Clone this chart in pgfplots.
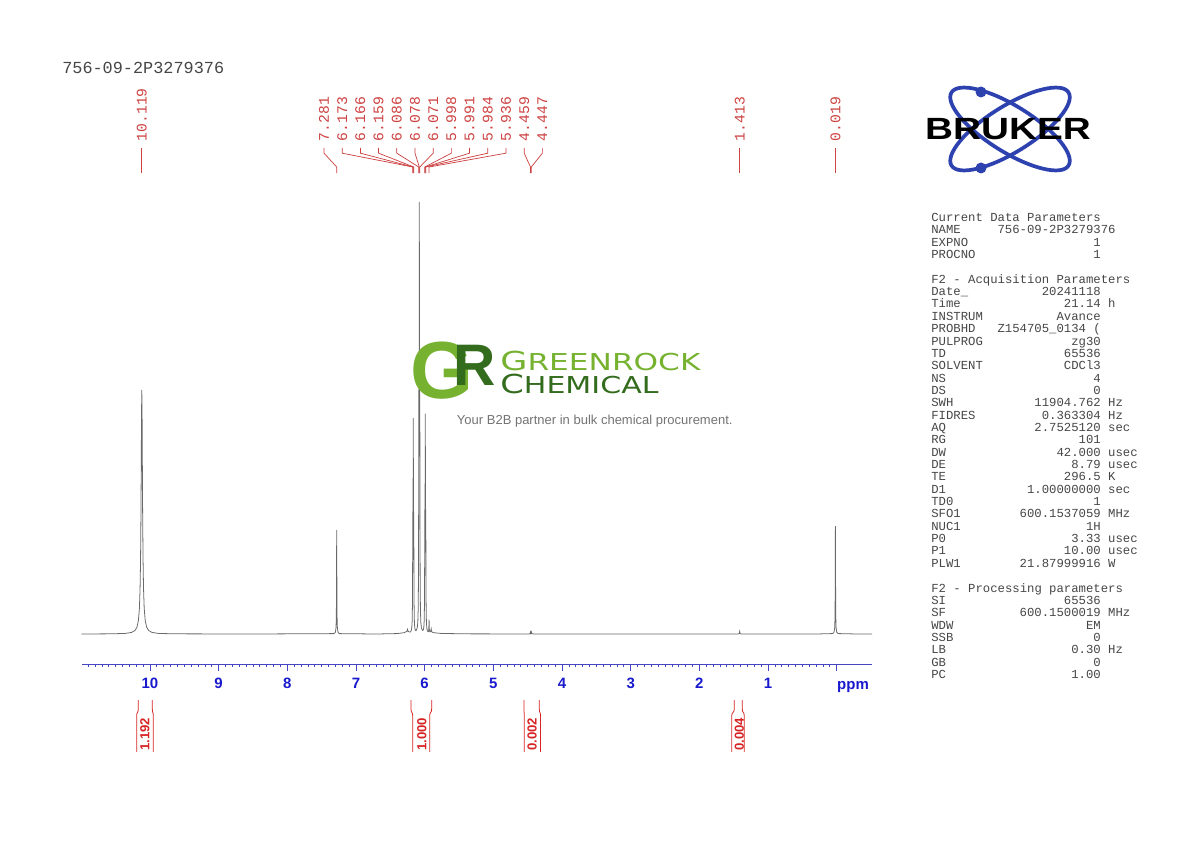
\documentclass[border=0pt]{standalone}
\usepackage{pgfplots}
\pgfplotsset{compat=1.18}
\usepackage{pgfplotstable}
\usepackage{fontspec}
\setmainfont{Liberation Sans}
\newfontfamily\mono{Liberation Mono}
\newfontfamily\dejavu{DejaVu Sans}
\definecolor{spec}{RGB}{105,105,105}
\definecolor{lblred}{RGB}{205,65,65}
\definecolor{intred}{RGB}{215,35,35}
\definecolor{axblue}{RGB}{70,70,195}
\definecolor{tickblue}{RGB}{25,25,205}
\definecolor{grlight}{RGB}{118,178,48}
\definecolor{grdark}{RGB}{52,108,30}
\definecolor{brblue}{RGB}{45,65,175}
\definecolor{partext}{RGB}{70,70,70}
\definecolor{taggray}{RGB}{115,115,115}

\newlength\cw
\setlength\cw{5.16pt}
\newcommand\pl[3]{\makebox[0pt][l]{#1}\makebox[23\cw][r]{#2}\hspace{\cw}#3}

\pgfplotstableread{
ppm I
11.0 0
10.6 0.04
10.369 0.12
10.269 0.36
10.219 0.8
10.189 1.6
10.169 3.1
10.154 5.9
10.144 10.6
10.137 17.4
10.131 28.3
10.127 39.1
10.123 50.9
10.119 56.5
10.115 50.9
10.111 39.1
10.107 28.3
10.101 17.4
10.094 10.6
10.084 5.9
10.069 3.1
10.049 1.6
10.019 0.8
9.969 0.36
9.869 0.12
9.6 0.04
8.5 0
7.321 0.09
7.301 0.37
7.291 1.41
7.287 3.55
7.285 6.7
7.2835 12.0
7.2825 17.6
7.281 24.1
7.2795 17.6
7.2785 12.0
7.277 6.7
7.275 3.55
7.271 1.41
7.261 0.37
7.241 0.09
6.7 0
6.40 0.1
6.30 0.3
6.26 0.6
6.25 1.1
6.24 0.6
6.216 0.45
6.206 0.5
6.196 0.78
6.188 1.4
6.182 2.95
6.178 6.8
6.1755 14.7
6.173 28.3
6.1695 24.0
6.166 50.0
6.1625 24.0
6.159 28.3
6.1565 14.7
6.154 6.8
6.150 2.95
6.144 1.45
6.136 0.85
6.126 0.8
6.118 1.0
6.108 1.5
6.100 2.7
6.094 5.8
6.090 13.5
6.0875 29.3
6.085 56.5
6.0815 47.9
6.078 100.0
6.0745 47.9
6.071 56.5
6.0685 29.3
6.066 13.5
6.062 5.8
6.056 2.7
6.048 1.5
6.038 1.0
6.031 0.85
6.021 0.9
6.013 1.4
6.007 3.0
6.003 6.9
6.0005 14.9
5.998 28.8
5.9945 24.4
5.991 51.0
5.9875 24.4
5.984 28.8
5.9815 14.9
5.979 6.9
5.975 3.0
5.969 1.4
5.961 0.75
5.952 0.55
5.946 0.55
5.942 0.75
5.940 1.1
5.9385 1.8
5.9375 2.5
5.936 3.3
5.9345 2.5
5.9335 1.8
5.932 1.1
5.929 0.7
5.922 0.5
5.912 0.6
5.905 1.2
5.898 0.5
5.87 0.3
5.75 0.12
5.3 0.03
4.48 0.02
4.465 0.1
4.459 0.5
4.453 0.15
4.447 0.5
4.441 0.1
4.42 0.02
1.44 0
1.419 0.1
1.413 0.6
1.407 0.1
1.39 0
0.3 0
0.059 0.1
0.039 0.39
0.029 1.47
0.025 3.7
0.023 7.0
0.0215 12.5
0.0205 18.4
0.019 25.0
0.0175 18.4
0.0165 12.5
0.015 7.0
0.013 3.7
0.009 1.47
-0.001 0.39
-0.021 0.1
-0.3 0
-0.514 0
}\spectab

\begin{document}
\begin{tikzpicture}[x=0.7pt,y=0.7pt]
\begin{axis}[
  at={(57.4pt,124.6pt)}, anchor=south west,
  scale only axis, width=553pt, height=338.52pt,
  xmin=-0.514, xmax=10.99, ymin=-6.944, ymax=105,
  x dir=reverse, clip=false,
  axis x line*=bottom, hide y axis,
  axis line style={axblue, line width=0.6pt, -},
  xtick={0,1,2,3,4,5,6,7,8,9,10,11},
  xticklabels={,1,2,3,4,5,6,7,8,9,10,},
  minor x tick num=9,
  tick align=outside,
  major tick length=4.9pt, minor tick length=2.1pt,
  every tick/.append style={axblue, line width=0.5pt},
  xticklabel style={font=\fontsize{10.5}{12}\selectfont\bfseries, text=tickblue, inner sep=0pt, yshift=-4.9pt},
]
\addplot[spec, line width=0.55pt, no markers] table[x=ppm,y=I]{\spectab};

% peak labels
\tikzset{plab/.style={lblred, rotate=90, anchor=west, inner sep=0pt, font=\mono\fontsize{10.3}{12}\selectfont}}
\tikzset{pline/.style={lblred, line width=0.5pt}}
\draw[pline] (axis cs:10.119,112.5) -- (axis cs:10.119,106.7);
\node[plab] at (axis cs:10.119,114.0) {10.119};
\draw[pline] (axis cs:1.413,112.5) -- (axis cs:1.413,106.7);
\node[plab] at (axis cs:1.413,114.0) {1.413};
\draw[pline] (axis cs:0.019,112.5) -- (axis cs:0.019,106.7);
\node[plab] at (axis cs:0.019,114.0) {0.019};

\draw[pline] (axis cs:7.466,112.5) -- (axis cs:7.466,111.3) -- (axis cs:7.281,108.1) -- (axis cs:7.281,106.7);
\node[plab] at (axis cs:7.466,114.0) {7.281};
\draw[pline] (axis cs:7.201,112.5) -- (axis cs:7.201,111.3) -- (axis cs:6.173,108.1) -- (axis cs:6.173,106.7);
\node[plab] at (axis cs:7.201,114.0) {6.173};
\draw[pline] (axis cs:6.936,112.5) -- (axis cs:6.936,111.3) -- (axis cs:6.166,108.1) -- (axis cs:6.166,106.7);
\node[plab] at (axis cs:6.936,114.0) {6.166};
\draw[pline] (axis cs:6.671,112.5) -- (axis cs:6.671,111.3) -- (axis cs:6.159,108.1) -- (axis cs:6.159,106.7);
\node[plab] at (axis cs:6.671,114.0) {6.159};
\draw[pline] (axis cs:6.406,112.5) -- (axis cs:6.406,111.3) -- (axis cs:6.086,108.1) -- (axis cs:6.086,106.7);
\node[plab] at (axis cs:6.406,114.0) {6.086};
\draw[pline] (axis cs:6.141,112.5) -- (axis cs:6.141,111.3) -- (axis cs:6.078,108.1) -- (axis cs:6.078,106.7);
\node[plab] at (axis cs:6.141,114.0) {6.078};
\draw[pline] (axis cs:5.876,112.5) -- (axis cs:5.876,111.3) -- (axis cs:6.071,108.1) -- (axis cs:6.071,106.7);
\node[plab] at (axis cs:5.876,114.0) {6.071};
\draw[pline] (axis cs:5.611,112.5) -- (axis cs:5.611,111.3) -- (axis cs:5.998,108.1) -- (axis cs:5.998,106.7);
\node[plab] at (axis cs:5.611,114.0) {5.998};
\draw[pline] (axis cs:5.346,112.5) -- (axis cs:5.346,111.3) -- (axis cs:5.991,108.1) -- (axis cs:5.991,106.7);
\node[plab] at (axis cs:5.346,114.0) {5.991};
\draw[pline] (axis cs:5.081,112.5) -- (axis cs:5.081,111.3) -- (axis cs:5.984,108.1) -- (axis cs:5.984,106.7);
\node[plab] at (axis cs:5.081,114.0) {5.984};
\draw[pline] (axis cs:4.816,112.5) -- (axis cs:4.816,111.3) -- (axis cs:5.936,108.1) -- (axis cs:5.936,106.7);
\node[plab] at (axis cs:4.816,114.0) {5.936};
\draw[pline] (axis cs:4.551,112.5) -- (axis cs:4.551,111.3) -- (axis cs:4.459,108.1) -- (axis cs:4.459,106.7);
\node[plab] at (axis cs:4.551,114.0) {4.459};
\draw[pline] (axis cs:4.286,112.5) -- (axis cs:4.286,111.3) -- (axis cs:4.447,108.1) -- (axis cs:4.447,106.7);
\node[plab] at (axis cs:4.286,114.0) {4.447};

% integrals
\tikzset{iline/.style={intred, line width=0.55pt}}
\tikzset{ilab/.style={intred, rotate=90, inner sep=0pt, font=\fontsize{9.2}{11}\selectfont\bfseries}}
\draw[iline] (axis cs:10.170,-15.28) -- (axis cs:10.170,-17.3) .. controls (axis cs:10.170,-18.4) and (axis cs:10.194,-17.9) .. (axis cs:10.194,-19.0) -- (axis cs:10.194,-27.31);
\draw[iline] (axis cs:9.966,-15.28) -- (axis cs:9.966,-17.3) .. controls (axis cs:9.966,-18.4) and (axis cs:9.952,-17.9) .. (axis cs:9.952,-19.0) -- (axis cs:9.952,-27.31);
\node[ilab] at (axis cs:10.073,-23.26) {1.192};
\draw[iline] (axis cs:6.199,-15.28) -- (axis cs:6.199,-17.3) .. controls (axis cs:6.199,-18.4) and (axis cs:6.174,-17.9) .. (axis cs:6.174,-19.0) -- (axis cs:6.174,-27.31);
\draw[iline] (axis cs:5.898,-15.28) -- (axis cs:5.898,-17.3) .. controls (axis cs:5.898,-18.4) and (axis cs:5.927,-17.9) .. (axis cs:5.927,-19.0) -- (axis cs:5.927,-27.31);
\node[ilab] at (axis cs:6.040,-23.26) {1.000};
\draw[iline] (axis cs:4.555,-15.28) -- (axis cs:4.555,-17.3) .. controls (axis cs:4.555,-18.4) and (axis cs:4.549,-17.9) .. (axis cs:4.549,-19.0) -- (axis cs:4.549,-27.31);
\draw[iline] (axis cs:4.331,-15.28) -- (axis cs:4.331,-17.3) .. controls (axis cs:4.331,-18.4) and (axis cs:4.313,-17.9) .. (axis cs:4.313,-19.0) -- (axis cs:4.313,-27.31);
\node[ilab] at (axis cs:4.437,-23.26) {0.002};
\draw[iline] (axis cs:1.491,-15.28) -- (axis cs:1.491,-17.3) .. controls (axis cs:1.491,-18.4) and (axis cs:1.529,-17.9) .. (axis cs:1.529,-19.0) -- (axis cs:1.529,-27.31);
\draw[iline] (axis cs:1.375,-15.28) -- (axis cs:1.375,-17.3) .. controls (axis cs:1.375,-18.4) and (axis cs:1.346,-17.9) .. (axis cs:1.346,-19.0) -- (axis cs:1.346,-27.31);
\node[ilab] at (axis cs:1.418,-23.26) {0.004};
\end{axis}

% ppm unit
\node[anchor=base, text=tickblue, font=\fontsize{10.5}{12}\selectfont\bfseries, inner sep=0pt] at (853,153) {ppm};

% header
\node[anchor=west, inner sep=0pt, text=partext, font=\mono\fontsize{11.8}{14}\selectfont] at (62,774) {756-09-2P3279376};

% parameters
\node[anchor=north west, inner sep=0pt, align=left, text=partext, font=\mono\fontsize{8.6}{8.645}\selectfont] at (931,629) {%
Current Data Parameters\\
\makebox[0pt][l]{NAME}\makebox[25\cw][r]{756-09-2P3279376}\\
\pl{EXPNO}{1}{}\\
\pl{PROCNO}{1}{}\\[8.645pt]
F2 - Acquisition Parameters\\
\pl{Date\_}{20241118}{}\\
\pl{Time}{21.14}{h}\\
\pl{INSTRUM}{Avance}{}\\
\pl{PROBHD}{Z154705\_0134 (}{}\\
\pl{PULPROG}{zg30}{}\\
\pl{TD}{65536}{}\\
\pl{SOLVENT}{CDCl3}{}\\
\pl{NS}{4}{}\\
\pl{DS}{0}{}\\
\pl{SWH}{11904.762}{Hz}\\
\pl{FIDRES}{0.363304}{Hz}\\
\pl{AQ}{2.7525120}{sec}\\
\pl{RG}{101}{}\\
\pl{DW}{42.000}{usec}\\
\pl{DE}{8.79}{usec}\\
\pl{TE}{296.5}{K}\\
\pl{D1}{1.00000000}{sec}\\
\pl{TD0}{1}{}\\
\pl{SFO1}{600.1537059}{MHz}\\
\pl{NUC1}{1H}{}\\
\pl{P0}{3.33}{usec}\\
\pl{P1}{10.00}{usec}\\
\pl{PLW1}{21.87999916}{W}\\[8.645pt]
F2 - Processing parameters\\
\pl{SI}{65536}{}\\
\pl{SF}{600.1500019}{MHz}\\
\pl{WDW}{EM}{}\\
\pl{SSB}{0}{}\\
\pl{LB}{0.30}{Hz}\\
\pl{GB}{0}{}\\
\pl{PC}{1.00}{}};

% Bruker logo
\begin{scope}[shift={(1010,713)}]
\draw[brblue, line width=2.6pt] (0,0) ellipse [x radius=69, y radius=23, rotate=32];
\draw[brblue, line width=2.6pt] (0,0) ellipse [x radius=69, y radius=23, rotate=-32];
\fill[brblue] (-29,37) circle (5.5);
\fill[brblue] (-29,-39) circle (5.5);
\node[inner sep=0pt, xscale=1.26, font=\fontsize{21.5}{24}\selectfont\bfseries] at (-2,0) {BRUKER};
\end{scope}

% GreenRock watermark
\node[anchor=base west, inner sep=0pt, text=grlight, font=\fontsize{56.7}{60}\selectfont\bfseries] at (410,444) {G};
\node[anchor=base west, inner sep=0pt, text=grdark, font=\fontsize{41}{44}\selectfont\bfseries] at (453,457) {R};
\node[anchor=base west, inner sep=0pt, text=grlight, xscale=1.34, font=\dejavu\fontsize{16.3}{18}\selectfont] at (500,472) {{\fontsize{18.3}{20}\selectfont G}REENROCK};
\node[anchor=base west, inner sep=0pt, text=grdark, xscale=1.29, font=\dejavu\fontsize{16.3}{18}\selectfont] at (500,449) {{\fontsize{18.3}{20}\selectfont C}HEMICAL};
\node[anchor=base west, inner sep=0pt, text=taggray, font=\fontsize{9.1}{11}\selectfont] at (456.7,417.2) {Your B2B partner in bulk chemical procurement.};

\path (0,0) rectangle (1190,842);
\end{tikzpicture}
\end{document}
